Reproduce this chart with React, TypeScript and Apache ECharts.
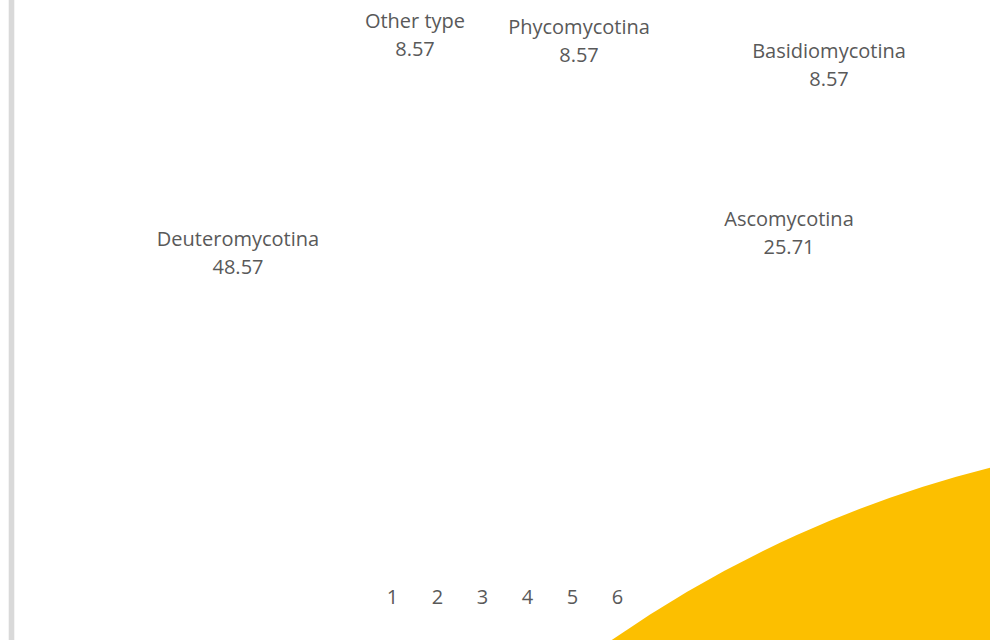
import React, { useEffect, useRef } from "react";
import * as echarts from "echarts";

// Data
const CATEGORIES = ["Deuteromycotina", "Ascomycotina", "Basidiomycotina", "Phycomycotina", "Other type"];
const VALUES = [48.57, 25.71, 8.57, 8.57, 8.57];
const TICK_LABELS = ["1", "2", "3", "4", "5", "6"];

// Layout / style (not data)
const SLICE_COLORS = ["#5B9BD5", "#ED7D31", "#A5A5A5", "#FCBF00", "#4472C4"];
const LABEL_CENTERS: [number, number][] = [
  [238, 252],
  [789, 232],
  [829, 64],
  [579, 40],
  [415, 34],
];
const FONT = "'Open Sans', 'Noto Sans', sans-serif";
const TEXT_COLOR = "#595959";

export default function App() {
  const ref = useRef<HTMLDivElement>(null);

  useEffect(() => {
    if (!ref.current) return;
    const chart = echarts.init(ref.current, undefined, { renderer: "svg" });

    const labelGraphics = CATEGORIES.map((name, i) => ({
      type: "text",
      x: LABEL_CENTERS[i][0],
      y: LABEL_CENTERS[i][1],
      silent: true,
      style: {
        text: `${name}\n${VALUES[i].toFixed(2)}`,
        fill: TEXT_COLOR,
        font: `20px ${FONT}`,
        fontSize: 20,
        fontFamily: FONT,
        lineHeight: 28,
        align: "center",
        verticalAlign: "middle",
      },
    }));

    chart.setOption({
      animation: false,
      backgroundColor: "#ffffff",
      grid: { left: 370, width: 270, top: 100, bottom: 62, containLabel: false },
      xAxis: {
        type: "category",
        data: TICK_LABELS,
        axisLine: { show: false },
        axisTick: { show: false },
        splitLine: { show: false },
        axisLabel: {
          color: TEXT_COLOR,
          fontSize: 20,
          fontFamily: FONT,
          margin: 8,
        },
      },
      yAxis: { type: "value", show: false, min: 0, max: 1 },
      series: [
        {
          type: "pie",
          silent: true,
          center: [1271, 1586],
          radius: 1153,
          startAngle: 68,
          clockwise: true,
          label: { show: false },
          labelLine: { show: false },
          emphasis: { disabled: true },
          itemStyle: { borderWidth: 0 },
          data: CATEGORIES.map((name, i) => ({
            name,
            value: VALUES[i],
            itemStyle: { color: SLICE_COLORS[i] },
          })),
        },
        {
          type: "line",
          data: [],
          silent: true,
        },
      ],
      graphic: [
        {
          type: "rect",
          silent: true,
          shape: { x: 8.7, y: 0, width: 5.6, height: 640 },
          style: { fill: "#d9d9d9" },
        },
        ...labelGraphics,
      ],
    });

    return () => chart.dispose();
  }, []);

  return (
    <div
      ref={ref}
      style={{ position: "fixed", left: 0, top: 0, width: 990, height: 640 }}
    />
  );
}
